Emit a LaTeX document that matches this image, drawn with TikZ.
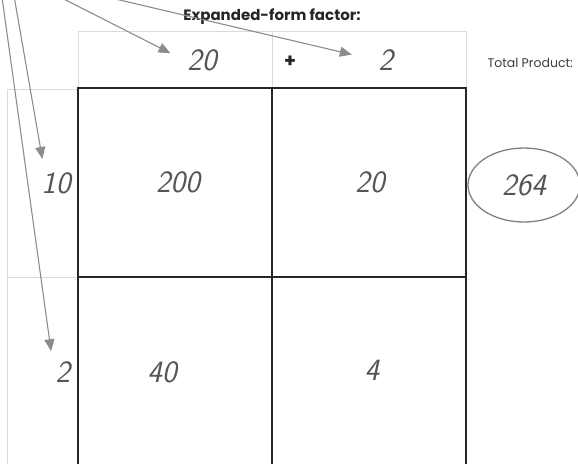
\documentclass[tikz,border=0pt]{standalone}
\usepackage{fontspec}
\newfontfamily\gothic{Poppins}
\usepackage{xcolor}
\definecolor{penGray}{HTML}{555555}
\definecolor{arrowGray}{HTML}{8C8C8C}
\definecolor{ruleGray}{HTML}{DADADA}
\definecolor{inkDark}{HTML}{262626}
\usetikzlibrary{arrows.meta,shapes.geometric}

\begin{document}
\begin{tikzpicture}[x=1pt,y=-1pt,
  hand/.style={font=\sffamily\itshape\fontsize{31}{31}\selectfont\addfontfeature{LetterSpace=12}, text=penGray},
  pointer/.style={draw=arrowGray, line width=1.1pt, -{Triangle[length=12pt,width=10pt]}},
  faint/.style={draw=ruleGray, line width=0.9pt},
  heavy/.style={draw=inkDark, line width=2pt}]
  \useasboundingbox (0,0) rectangle (578,463);
  \clip (0,0) rectangle (578,463);
  % faint lines: header row and left column
  \draw[faint] (78,31) rectangle (466,88);
  \draw[faint] (272,31) -- (272,88);
  \draw[faint] (78,89) -- (7,89) -- (7,470);
  \draw[faint] (7,277) -- (78,277);
  % the area grid (runs off the bottom)
  \draw[heavy] (78,470) -- (78,88) -- (466,88) -- (466,470);
  \draw[heavy] (272,88) -- (272,470);
  \draw[heavy] (78,277) -- (466,277);
  % headings
  \node[font=\gothic\bfseries\fontsize{15}{17}\selectfont, text=inkDark] (title) at (272,17) {Expanded-form factor:};
  \node[font=\gothic\fontsize{12.5}{14}\selectfont, text=inkDark!90, anchor=west] (total) at (484,63) {Total Product:};
  % factors
  \node[hand] (h20) at (202,60) {20};
  \node[font=\gothic\bfseries\fontsize{19}{19}\selectfont, text=inkDark] (plus) at (290,62) {+};
  \node[hand] (h2) at (386,60) {2};
  \node[hand] (r10) at (56,183) {10};
  \node[hand] (r2) at (63,372) {2};
  % partial products
  \node[hand] (p200) at (178,182) {200};
  \node[hand] (p20)  at (370,182) {20};
  \node[hand] (p40)  at (162,372) {40};
  \node[hand] (p4)   at (372,370) {4};
  % the total, ringed
  \node[hand, ellipse, draw=penGray!75, line width=1.3pt,
        minimum width=112pt, minimum height=74pt] (sum) at (524,185) {264};
  % pointers come in from above the sheet
  \coordinate (s20) at (46,-10);
  \coordinate (s2)  at (77,-10);
  \coordinate (s10) at (13,-10);
  \coordinate (sr2) at (1,-10);
  \draw[pointer, shorten >=15pt] (s20) -- (h20.west);
  \draw[pointer, shorten >=24pt] (s2)  -- (h2.west);
  \draw[pointer, shorten >=10pt] (s10) -- (r10.130);
  \draw[pointer, shorten >=8pt]  (sr2) -- (r2.130);
\end{tikzpicture}
\end{document}
